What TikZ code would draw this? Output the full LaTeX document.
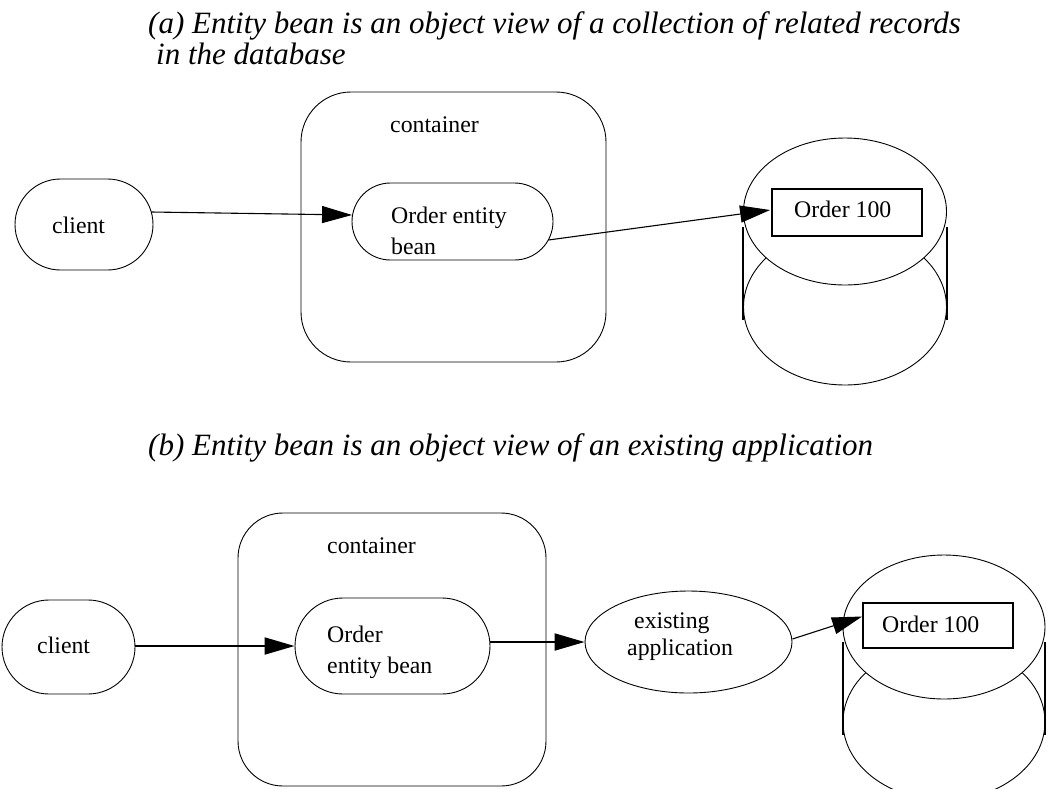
\documentclass[tikz,border=0pt]{standalone}
\usepackage{fontspec}
\setmainfont{Liberation Serif}
\usetikzlibrary{arrows.meta,shapes.geometric,calc}
\begin{document}
\begin{tikzpicture}[x=1pt,y=-1pt,
  lbl/.style={font=\fontsize{23.8}{28}\selectfont, inner sep=0pt, anchor=base west},
  ttl/.style={font=\fontsize{31}{34}\selectfont\itshape, inner sep=0pt, anchor=base west},
  shp/.style={draw, line width=0.9pt, rectangle, inner sep=0pt},
  ell/.style={draw, line width=0.9pt, ellipse, inner sep=0pt, fill=white},
  recbox/.style={draw, line width=1.8pt, rectangle, inner sep=0pt, fill=white},
  side/.style={line width=2pt},
  arr/.style={line width=1.1pt, -{Triangle[length=30pt,width=17pt]}},
  arrb/.style={line width=2pt, -{Triangle[length=30pt,width=17pt]}}
]
\useasboundingbox (0,0) rectangle (1047,788);
\clip (0,0) rectangle (1047,788);
\fill[white] (0,0) rectangle (1047,788);

% ---------- titles ----------
\node[ttl] (ta1) at (148,33) {(a) Entity bean is an object view of a collection of related records};
\node[ttl] (ta2) at (156,64) {in the database};
\node[ttl] (tb) at (148,455) {(b) Entity bean is an object view of an existing application};

% ---------- panel (a) ----------
\node[shp, minimum width=305pt, minimum height=270pt, rounded corners=50pt] (contA) at (453.5,227) {};
\node[lbl] (contAt) at (390,132) {container};
\node[shp, minimum width=138pt, minimum height=91pt, rounded corners=45.5pt] (clientA) at (84,224.5) {};
\node[lbl] (clientAt) at (52,233) {client};
\node[shp, minimum width=201pt, minimum height=77pt, rounded corners=38.5pt] (beanA) at (452.5,221.5) {};
\node[lbl] (beanAt1) at (391,223) {Order entity};
\node[lbl] (beanAt2) at (391,254) {bean};

\node[ell, minimum width=203pt, minimum height=156pt] (dbAlow) at (845,307) {};
\node[ell, minimum width=203pt, minimum height=147pt] (dbA) at (845,211.5) {};
\draw[side] ($(dbA.west)+(0,15.5)$) -- ($(dbA.west)+(0,108.5)$);
\draw[side] ($(dbA.east)+(0,15.5)$) -- ($(dbA.east)+(0,108.5)$);
\node[recbox, minimum width=150pt, minimum height=47pt] (rectA) at (847,212.5) {};
\node[lbl] (rectAt) at (794,217) {Order 100};

\draw[arr] ($(clientA.east)+(-2,-12.5)$) -- ($(beanA.west)+(0.5,-6.5)$);
\draw[arr] ($(beanA.east)+(-5,18.5)$) -- ($(rectA.west)+(-1,-2.5)$);

% ---------- panel (b) ----------
\node[shp, minimum width=308pt, minimum height=273pt, rounded corners=45pt] (contB) at (392,649.5) {};
\node[lbl] (contBt) at (327,553) {container};
\node[shp, minimum width=133pt, minimum height=94pt, rounded corners=47pt] (clientB) at (68.5,647) {};
\node[lbl] (clientBt) at (37,653) {client};
\node[shp, minimum width=195pt, minimum height=96pt, rounded corners=48pt] (beanB) at (392.5,646) {};
\node[lbl] (beanBt1) at (327,642) {Order};
\node[lbl] (beanBt2) at (327,673) {entity bean};
\node[ell, minimum width=207pt, minimum height=102pt] (appB) at (688.5,642) {};
\node[lbl] (appBt1) at (634,628) {existing};
\node[lbl] (appBt2) at (627,655) {application};

\node[ell, minimum width=202pt, minimum height=156pt] (dbBlow) at (944,722) {};
\node[ell, minimum width=202pt, minimum height=144pt] (dbB) at (944,627) {};
\draw[side] ($(dbB.west)+(0,15)$) -- ($(dbB.west)+(0,108)$);
\draw[side] ($(dbB.east)+(0,15)$) -- ($(dbB.east)+(0,108)$);
\node[recbox, minimum width=150pt, minimum height=45pt] (rectB) at (938,625.5) {};
\node[lbl] (rectBt) at (882,632) {Order 100};

\draw[arrb] ($(clientB.east)+(0,-1)$) -- (beanB.west);
\draw[arrb] ($(beanB.east)+(0,-4)$) -- ($(appB.west)+(0,0)$);
\draw[arr] ($(appB.east)+(0,-3)$) -- ($(rectB.west)+(0,-9)$);
\end{tikzpicture}
\end{document}
